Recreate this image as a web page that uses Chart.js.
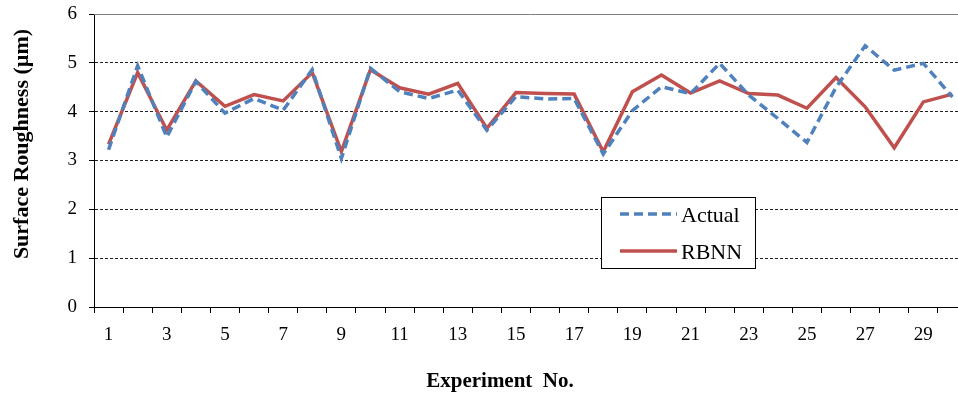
<!DOCTYPE html>
<html>
<head>
<meta charset="utf-8">
<script src="https://cdn.jsdelivr.net/npm/chart.js@4/dist/chart.umd.min.js"></script>
<style>
  html, body { margin: 0; padding: 0; background: #fff; overflow: hidden; }
  #wrap { width: 970px; height: 398px; }
</style>
</head>
<body>
<div id="wrap"><canvas id="c" width="970" height="398"></canvas></div>
<script>
// Experiment numbers along the x axis
const categories = ['1','2','3','4','5','6','7','8','9','10','11','12','13','14','15',
                    '16','17','18','19','20','21','22','23','24','25','26','27','28','29','30'];

// Measured surface roughness (µm)
const actual = [3.22, 4.94, 3.48, 4.62, 3.97, 4.27, 4.03, 4.86, 3.04, 4.89,
                4.41, 4.27, 4.44, 3.62, 4.31, 4.26, 4.27, 3.13, 4.02, 4.51,
                4.37, 4.99, 4.34, 3.86, 3.37, 4.50, 5.35, 4.85, 4.99, 4.30];

// RBNN predicted surface roughness (µm)
const rbnn = [3.33, 4.80, 3.62, 4.63, 4.11, 4.35, 4.22, 4.80, 3.18, 4.86,
              4.49, 4.36, 4.58, 3.66, 4.39, 4.37, 4.36, 3.18, 4.41, 4.75,
              4.38, 4.63, 4.37, 4.34, 4.07, 4.70, 4.10, 3.26, 4.20, 4.36];

// y axis range and step
const yTicks = [0, 1, 2, 3, 4, 5, 6];

const yTitle = 'Surface Roughness (µm)';
const xTitle = 'Experiment  No.';

const SERIF = '"Liberation Serif", "Times New Roman", serif';
const BLUE = '#4F81BD';
const RED = '#C0504D';

// Plot frame, legend box and axis titles
const decorations = {
  id: 'decorations',
  afterDatasetsDraw(chart) {
    const { ctx, chartArea: a } = chart;
    ctx.save();
    // top edge of the plot area
    ctx.strokeStyle = '#7f7f7f';
    ctx.lineWidth = 1;
    ctx.beginPath();
    ctx.moveTo(a.left, Math.round(a.top) + 0.5);
    ctx.lineTo(a.right, Math.round(a.top) + 0.5);
    ctx.stroke();

    // legend box inside the plot
    const bx = 601.5, by = 197.5, bw = 154, bh = 71;
    ctx.fillStyle = '#fff';
    ctx.fillRect(bx, by, bw, bh);
    ctx.strokeStyle = '#000';
    ctx.lineWidth = 1;
    ctx.strokeRect(bx, by, bw, bh);

    const entries = chart.data.datasets.map((ds, i) => ({
      label: ds.label, color: ds.borderColor, dash: ds.borderDash || [], y: i === 0 ? 214 : 251
    }));
    entries.forEach(e => {
      ctx.strokeStyle = e.color;
      ctx.lineWidth = 3.5;
      ctx.setLineDash(e.dash);
      ctx.beginPath();
      ctx.moveTo(620, e.y);
      ctx.lineTo(677, e.y);
      ctx.stroke();
      ctx.setLineDash([]);
      ctx.fillStyle = '#000';
      ctx.font = '22px ' + SERIF;
      ctx.textAlign = 'left';
      ctx.textBaseline = 'middle';
      ctx.fillText(e.label, 681, e.y + 2);
    });

    // axis titles
    ctx.fillStyle = '#000';
    ctx.font = 'bold 21px ' + SERIF;
    ctx.textAlign = 'center';
    ctx.textBaseline = 'middle';
    ctx.fillText(xTitle, 500, 382);

    ctx.save();
    ctx.translate(22, 144);
    ctx.rotate(-Math.PI / 2);
    ctx.font = 'bold 22px ' + SERIF;
    ctx.fillText(yTitle, 0, 0);
    ctx.restore();

    ctx.restore();
  }
};

new Chart(document.getElementById('c'), {
  type: 'line',
  data: {
    labels: categories,
    datasets: [
      {
        label: 'Actual',
        data: actual,
        borderColor: BLUE,
        backgroundColor: BLUE,
        borderWidth: 3.5,
        borderDash: [9, 5],
        pointRadius: 0,
        tension: 0,
        fill: false
      },
      {
        label: 'RBNN',
        data: rbnn,
        borderColor: RED,
        backgroundColor: RED,
        borderWidth: 3.5,
        pointRadius: 0,
        tension: 0,
        fill: false
      }
    ]
  },
  options: {
    responsive: false,
    animation: false,
    devicePixelRatio: 1,
    layout: { padding: { top: 14, right: 3, left: 0, bottom: 0 } },
    plugins: {
      legend: { display: false },
      tooltip: { enabled: false }
    },
    scales: {
      x: {
        type: 'category',
        offset: true,
        afterFit: s => { s.height = 91; s.paddingLeft = 0; s.paddingRight = 0; },
        grid: {
          offset: true,
          drawOnChartArea: false,
          drawTicks: true,
          tickLength: 6,
          tickColor: '#000'
        },
        border: { display: true, color: '#000', width: 1 },
        ticks: {
          autoSkip: false,
          maxRotation: 0,
          padding: 11,
          color: '#000',
          font: { family: SERIF, size: 19 },
          callback: (v, i) => (i % 2 === 0 ? categories[i] : '')
        },
        title: { display: false }
      },
      y: {
        min: yTicks[0],
        max: yTicks[yTicks.length - 1],
        afterFit: s => { s.width = 94; s.paddingTop = 0; s.paddingBottom = 0; },
        afterBuildTicks: s => { s.ticks = yTicks.map(v => ({ value: v })); },
        grid: {
          drawTicks: true,
          tickLength: 5,
          tickColor: '#000',
          lineWidth: 1,
          color: ctx => (ctx.tick && (ctx.tick.value === 0 || ctx.tick.value === 6)) ? 'rgba(0,0,0,0)' : '#222'
        },
        border: { display: true, color: '#000', width: 1, dash: [3, 2] },
        ticks: {
          padding: 12,
          color: '#000',
          font: { family: SERIF, size: 19 }
        },
        title: { display: false }
      }
    }
  },
  plugins: [decorations]
});
</script>
</body>
</html>
